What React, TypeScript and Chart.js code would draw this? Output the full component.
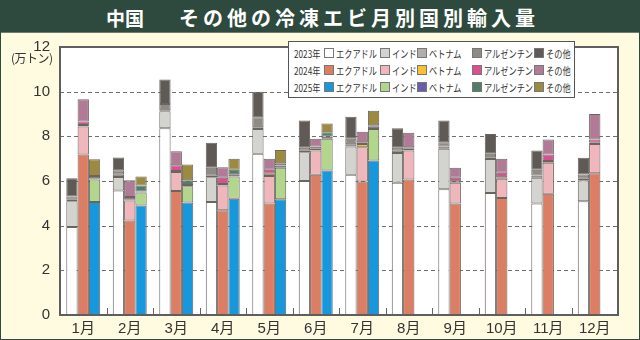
import React, { useEffect, useRef } from "react";
import { Chart, registerables } from "chart.js";
Chart.register(...registerables);

const months = ["1月", "2月", "3月", "4月", "5月", "6月", "7月", "8月", "9月", "10月", "11月", "12月"];
const years = ["2023年", "2024年", "2025年"];
const countries = ["エクアドル", "インド", "ベトナム", "アルゼンチン", "その他"];

const ecuador2023 = [3.94, 5.58, 8.36, 5.06, 7.22, 6.0, 6.28, 5.92, 5.63, 5.46, 4.99, 5.09];
const india2023 = [1.15, 0.6, 0.76, 1.11, 1.11, 1.29, 1.26, 1.33, 1.81, 1.52, 1.16, 0.94];
const vietnam2023 = [0.07, 0.1, 0.05, 0.07, 0.08, 0.07, 0.1, 0.1, 0.1, 0.08, 0.1, 0.07];
const argentina2023 = [0.15, 0.2, 0.28, 0.35, 0.44, 0.13, 0.25, 0.14, 0.2, 0.16, 0.25, 0.19];
const other2023 = [0.81, 0.57, 1.09, 1.12, 1.15, 1.22, 0.99, 0.87, 0.97, 0.89, 0.87, 0.75];

const ecuador2024 = [7.19, 4.23, 5.55, 4.69, 4.99, 6.28, 5.98, 6.07, 4.99, 5.24, 5.43, 6.35];
const india2024 = [1.25, 0.9, 0.85, 1.11, 1.23, 1.09, 1.53, 1.3, 0.93, 0.86, 1.39, 1.31];
const vietnam2024 = [0.07, 0.05, 0.05, 0.07, 0.1, 0.07, 0.15, 0.07, 0.07, 0.07, 0.07, 0.05];
const argentina2024 = [0.15, 0.1, 0.25, 0.28, 0.18, 0.1, 0.07, 0.07, 0.16, 0.2, 0.3, 0.15];
const other2024 = [1.0, 0.75, 0.63, 0.47, 0.5, 0.35, 0.48, 0.65, 0.44, 0.63, 0.67, 1.14];

const ecuador2025 = [5.06, 4.9, 5.04, 5.21, 5.18, 6.47, 6.92, null, null, null, null, null];
const india2025 = [1.01, 0.58, 0.73, 0.99, 1.41, 1.42, 1.41, null, null, null, null, null];
const vietnam2025 = [0.05, 0.05, 0.05, 0.1, 0.1, 0.1, 0.1, null, null, null, null, null];
const argentina2025 = [0.1, 0.27, 0.21, 0.2, 0.1, 0.19, 0.07, null, null, null, null, null];
const other2025 = [0.75, 0.4, 0.71, 0.5, 0.6, 0.4, 0.65, null, null, null, null, null];

const yTicks = [0, 2, 4, 6, 8, 10, 12];

const colors2023 = ["#ffffff", "#d3d3cf", "#b0aeaa", "#8e8b87", "#5f5a55"];
const colors2024 = ["#dc7e64", "#efb7bb", "#f6c233", "#d94f8f", "#b17b97"];
const colors2025 = ["#1798dd", "#b3d68d", "#6a5ea8", "#4f7f68", "#9c8b3f"];

const series = [
  [ecuador2023, india2023, vietnam2023, argentina2023, other2023],
  [ecuador2024, india2024, vietnam2024, argentina2024, other2024],
  [ecuador2025, india2025, vietnam2025, argentina2025, other2025],
];
const palettes = [colors2023, colors2024, colors2025];

const CREAM = "#fffbe0";
const GREEN = "#2e4a3e";

export default function App() {
  const ref = useRef<HTMLCanvasElement>(null);

  useEffect(() => {
    document.body.style.margin = "0";
    const datasets: any[] = [];
    years.forEach((y, yi) =>
      countries.forEach((c, ci) =>
        datasets.push({
          label: y + c,
          data: series[yi][ci],
          backgroundColor: palettes[yi][ci],
          borderColor: "#6b6560",
          borderWidth: 1,
          borderSkipped: false,
          stack: y,
          categoryPercentage: 0.73,
          barPercentage: 1,
        })
      )
    );

    const frame = {
      id: "frame",
      beforeDraw(chart: any) {
        const { ctx, chartArea: a } = chart;
        ctx.save();
        ctx.fillStyle = "#ffffff";
        ctx.fillRect(a.left, a.top, a.right - a.left, a.bottom - a.top);
        ctx.restore();
      },
      beforeDatasetsDraw(chart: any) {
        const { ctx, chartArea: a } = chart;
        const ys = chart.scales.y;
        ctx.save();
        ctx.strokeStyle = "#6f6f6f";
        ctx.lineWidth = 1;
        ctx.setLineDash([4, 3]);
        yTicks.forEach((v) => {
          if (v <= 0 || v >= 12) return;
          const y = Math.round(ys.getPixelForValue(v)) + 0.5;
          ctx.beginPath();
          ctx.moveTo(a.left, y);
          ctx.lineTo(a.right, y);
          ctx.stroke();
        });
        ctx.restore();
      },
      afterDraw(chart: any) {
        const { ctx, chartArea: a } = chart;
        const xs = chart.scales.x;
        ctx.save();
        ctx.strokeStyle = "#666";
        ctx.lineWidth = 1;
        for (let i = 0; i < months.length - 1; i++) {
          const x = Math.round((xs.getPixelForValue(i) + xs.getPixelForValue(i + 1)) / 2) + 0.5;
          ctx.beginPath();
          ctx.moveTo(x, a.bottom);
          ctx.lineTo(x, a.bottom - 7);
          ctx.stroke();
        }
        ctx.strokeStyle = "#5e5e5e";
        ctx.lineWidth = 2;
        ctx.strokeRect(a.left, a.top, a.right - a.left, a.bottom - a.top);
        ctx.restore();
      },
    };

    const font = { family: '"Liberation Sans", "Noto Sans CJK JP", sans-serif', size: 15 };

    const chart = new Chart(ref.current!, {
      type: "bar",
      data: { labels: months, datasets },
      options: {
        animation: false,
        responsive: false,
        maintainAspectRatio: false,
        devicePixelRatio: 1,
        layout: { padding: { top: 47, right: 22, left: 0, bottom: 0 } },
        plugins: { legend: { display: false }, tooltip: { enabled: false }, title: { display: false } },
        scales: {
          x: {
            stacked: true,
            grid: { display: false, drawTicks: false },
            border: { display: false },
            ticks: { color: "#333", font, padding: 5, maxRotation: 0, autoSkip: false },
            afterFit: (s: any) => {
              s.height = 25;
            },
          },
          y: {
            stacked: true,
            min: 0,
            max: 12,
            afterBuildTicks: (s: any) => {
              s.ticks = yTicks.map((v) => ({ value: v }));
            },
            grid: { display: false, drawTicks: false },
            border: { display: false },
            ticks: { color: "#333", font, padding: 10 },
            afterFit: (s: any) => {
              s.width = 60;
            },
          },
        },
      },
      plugins: [frame],
    });
    return () => chart.destroy();
  }, []);

  const swatchLefts = [35, 91, 128, 183, 245];
  const rowTops = [6, 23, 40];
  const jp = '"Noto Sans CJK JP", "Liberation Sans", sans-serif';
  const condensed: React.CSSProperties = {
    position: "absolute", fontFamily: jp, fontSize: 10.5, lineHeight: "11px", color: "#333",
    whiteSpace: "nowrap", transform: "scaleX(0.78)", transformOrigin: "left center",
  };

  return (
    <div style={{ position: "relative", width: 640, height: 340, background: CREAM, overflow: "hidden" }}>
      <div style={{ position: "absolute", left: 0, top: 0, width: 640, height: 32, background: GREEN, borderBottom: "1px solid #6d7d6e" }} />
      <span
        style={{
          position: "absolute", left: 106, top: 8, color: "#fff", fontFamily: jp, fontWeight: 700,
          fontSize: 19, lineHeight: "20px", whiteSpace: "nowrap",
        }}
      >
        中国
      </span>
      <span
        style={{
          position: "absolute", left: 179, top: 8, color: "#fff", fontFamily: jp, fontWeight: 700,
          fontSize: 20, lineHeight: "20px", letterSpacing: "4px", whiteSpace: "nowrap",
        }}
      >
        その他の冷凍エビ月別国別輸入量
      </span>
      <canvas ref={ref} width={640} height={340} style={{ position: "absolute", left: 0, top: 0, width: 640, height: 340 }} />
      <span
        style={{
          position: "absolute", left: 11, top: 51, fontFamily: jp, fontSize: 12, lineHeight: "14px",
          color: "#333", whiteSpace: "nowrap", letterSpacing: "-0.5px",
        }}
      >
        (万トン)
      </span>
      <div
        style={{
          position: "absolute", left: 288, top: 41, width: 287, height: 57, background: "#fff",
          border: "1px solid #555", boxSizing: "border-box",
        }}
      >
        {years.map((y, yi) => (
          <React.Fragment key={y}>
            <span style={{ ...condensed, left: 5, top: rowTops[yi] }}>{y}</span>
            {countries.map((c, ci) => (
              <React.Fragment key={c}>
                <span
                  style={{
                    position: "absolute", left: swatchLefts[ci], top: rowTops[yi], width: 10, height: 10,
                    background: palettes[yi][ci], border: "1px solid #777", boxSizing: "border-box",
                  }}
                />
                <span style={{ ...condensed, left: swatchLefts[ci] + 12, top: rowTops[yi] }}>{c}</span>
              </React.Fragment>
            ))}
          </React.Fragment>
        ))}
      </div>
      <div
        style={{
          position: "absolute", left: 0, top: 0, width: 640, height: 340, border: `1px solid ${GREEN}`,
          boxSizing: "border-box", pointerEvents: "none",
        }}
      />
    </div>
  );
}
